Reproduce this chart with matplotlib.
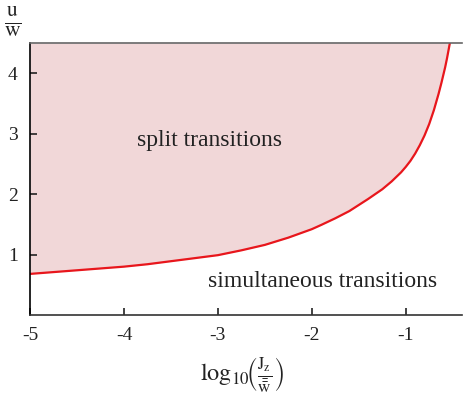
import matplotlib
matplotlib.use("Agg")
import matplotlib.pyplot as plt

log_jz = [-5.0, -4.75, -4.5, -4.25, -4.0, -3.75, -3.5, -3.25, -3.0, -2.75, -2.5, -2.25, -2.0,
          -1.9, -1.75, -1.6, -1.5, -1.4, -1.25, -1.15, -1.05, -1.0, -0.95, -0.9, -0.85, -0.8,
          -0.75, -0.7, -0.65, -0.62, -0.58, -0.56, -0.53]
u_over_w = [0.68, 0.71, 0.74, 0.77, 0.80, 0.84, 0.89, 0.94, 0.99, 1.07, 1.16, 1.28, 1.42,
            1.49, 1.60, 1.72, 1.82, 1.92, 2.08, 2.21, 2.36, 2.45, 2.55, 2.67, 2.81, 2.97,
            3.16, 3.39, 3.66, 3.84, 4.10, 4.25, 4.50]
x_ticks = [-5, -4, -3, -2, -1]
y_ticks = [1, 2, 3, 4]
y_top = 4.5

plt.rcParams['font.family'] = ['Liberation Serif', 'DejaVu Serif']
plt.rcParams['mathtext.fontset'] = 'stix'

fig = plt.figure(figsize=(4.63, 4.0), dpi=100)
ax = fig.add_axes([0.065, 0.2125, 0.933, 0.68])

ax.fill_between(log_jz, u_over_w, y_top, color='#f1d7d8', lw=0)
ax.plot(log_jz, u_over_w, color='#e8161c', lw=1.6, solid_joinstyle='round')

ax.set_xlim(-5, -0.40)
ax.set_ylim(0, y_top)
ax.set_xticks(x_ticks)
ax.set_yticks(y_ticks)
ax.set_xticklabels([str(v) for v in x_ticks])
ax.set_yticklabels([str(v) for v in y_ticks])
ax.tick_params(direction='in', length=5, width=1.2, labelsize=14, colors='#222222', pad=9)

ax.spines['right'].set_visible(False)
ax.spines['top'].set_color('#666666')
ax.spines['top'].set_linewidth(1.2)
ax.spines['left'].set_linewidth(1.2)
ax.spines['bottom'].set_linewidth(1.2)
ax.spines['bottom'].set_color('#333333')

ax.text(-3.09, 2.89, 'split transitions', fontsize=17, ha='center', va='center', color='#222222')
ax.text(-1.89, 0.55, 'simultaneous transitions', fontsize=17, ha='center', va='center', color='#222222')

fig.text(13/463, 1 - 22/400, r'$\frac{\mathrm{u}}{\mathrm{w}}$', fontsize=22, ha='center', va='center', color='#222222')
fig.text(242/463, 1 - 375/400, r'$\mathrm{log}_{10}\!\left(\frac{\mathrm{J_z}}{\bar{\bar{\mathrm{w}}}}\right)$',
         fontsize=17.5, ha='center', va='center', color='#222222')

fig.savefig('out.png', dpi=100)
